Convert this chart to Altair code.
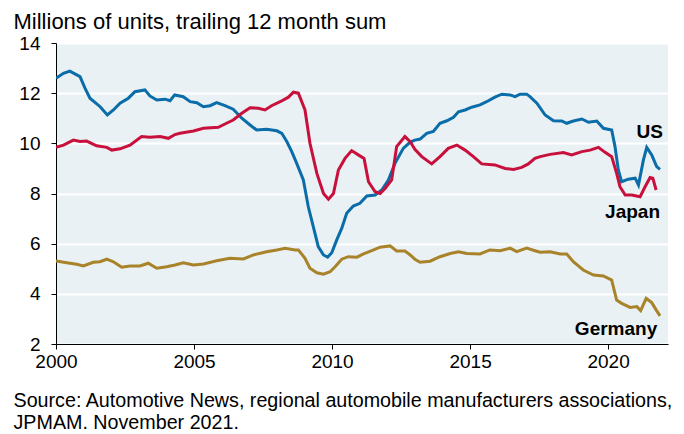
import altair as alt
import pandas as pd

# ---- data (millions of units, trailing 12m sum) ----
us_year = [2000.0, 2000.27, 2000.5, 2000.87, 2001.05, 2001.23, 2001.6, 2001.86, 2002.08, 2002.32,
           2002.62, 2002.86, 2003.22, 2003.4, 2003.65, 2003.95, 2004.13, 2004.3, 2004.61, 2004.86,
           2005.1, 2005.34, 2005.58, 2005.82, 2006.12, 2006.42, 2006.73, 2007.03, 2007.27, 2007.63,
           2008.0, 2008.18, 2008.36, 2008.54, 2008.72, 2008.96, 2009.14, 2009.32, 2009.5, 2009.69,
           2009.84, 2009.99, 2010.17, 2010.35, 2010.53, 2010.77, 2011.01, 2011.26, 2011.56, 2011.8,
           2012.04, 2012.28, 2012.58, 2012.83, 2013.0, 2013.19, 2013.43, 2013.67, 2013.91, 2014.16,
           2014.4, 2014.58, 2014.82, 2015.06, 2015.36, 2015.6, 2015.9, 2016.15, 2016.45, 2016.63,
           2016.81, 2017.05, 2017.17, 2017.42, 2017.72, 2018.02, 2018.32, 2018.5, 2018.74, 2019.05,
           2019.29, 2019.59, 2019.83, 2020.13, 2020.25, 2020.37, 2020.49, 2020.73, 2020.98, 2021.1,
           2021.28, 2021.4, 2021.58, 2021.76, 2021.88]
us_val = [12.59, 12.79, 12.88, 12.66, 12.2, 11.8, 11.46, 11.13, 11.33, 11.6,
          11.8, 12.06, 12.13, 11.89, 11.73, 11.76, 11.7, 11.93, 11.86, 11.66,
          11.62, 11.46, 11.5, 11.62, 11.5, 11.36, 11.0, 10.73, 10.53, 10.56,
          10.5, 10.4, 10.07, 9.67, 9.2, 8.54, 7.47, 6.68, 5.88, 5.55,
          5.46, 5.64, 6.15, 6.61, 7.21, 7.5, 7.61, 7.9, 7.94, 8.14,
          8.54, 9.2, 9.8, 10.05, 10.13, 10.17, 10.4, 10.47, 10.8, 10.9,
          11.04, 11.26, 11.33, 11.44, 11.53, 11.66, 11.84, 11.96, 11.93, 11.86,
          11.96, 11.96, 11.86, 11.6, 11.13, 10.9, 10.89, 10.8, 10.89, 10.97,
          10.84, 10.89, 10.6, 10.53, 9.87, 8.94, 8.47, 8.57, 8.61, 8.34,
          9.34, 9.84, 9.54, 9.07, 8.96]

jp_year = [2000.0, 2000.27, 2000.63, 2000.87, 2001.11, 2001.47, 2001.84, 2002.02, 2002.32, 2002.68,
           2003.1, 2003.4, 2003.77, 2004.07, 2004.31, 2004.49, 2004.98, 2005.34, 2005.88, 2006.12,
           2006.42, 2006.73, 2007.03, 2007.33, 2007.57, 2007.81, 2008.12, 2008.42, 2008.6, 2008.78,
           2009.02, 2009.2, 2009.45, 2009.69, 2009.87, 2010.05, 2010.23, 2010.47, 2010.71, 2010.95,
           2011.16, 2011.32, 2011.56, 2011.74, 2011.92, 2012.16, 2012.34, 2012.64, 2012.83, 2013.0,
           2013.25, 2013.61, 2013.91, 2014.21, 2014.52, 2014.82, 2015.12, 2015.42, 2015.9, 2016.27,
           2016.57, 2016.87, 2017.11, 2017.35, 2017.54, 2017.9, 2018.38, 2018.68, 2019.05, 2019.35,
           2019.65, 2019.89, 2020.13, 2020.31, 2020.43, 2020.62, 2020.86, 2021.16, 2021.34, 2021.52,
           2021.62, 2021.74]
jp_val = [9.84, 9.93, 10.13, 10.07, 10.09, 9.9, 9.84, 9.73, 9.78, 9.93,
          10.27, 10.24, 10.27, 10.2, 10.35, 10.4, 10.49, 10.6, 10.64, 10.77,
          10.93, 11.2, 11.42, 11.4, 11.33, 11.5, 11.66, 11.84, 12.04, 12.0,
          11.33, 10.0, 8.8, 8.0, 7.77, 8.0, 8.94, 9.4, 9.71, 9.54,
          9.4, 8.47, 8.07, 8.0, 8.2, 8.54, 9.87, 10.27, 10.07, 9.76,
          9.47, 9.18, 9.47, 9.8, 9.93, 9.73, 9.47, 9.18, 9.14, 9.0,
          8.96, 9.04, 9.18, 9.4, 9.47, 9.56, 9.63, 9.54, 9.67, 9.73,
          9.84, 9.64, 9.47, 8.8, 8.27, 7.94, 7.94, 7.87, 8.27, 8.64,
          8.61, 8.14]

de_year = [2000.0, 2000.39, 2000.75, 2000.99, 2001.35, 2001.59, 2001.84, 2002.08, 2002.38, 2002.68,
           2003.04, 2003.34, 2003.65, 2004.01, 2004.31, 2004.61, 2004.98, 2005.34, 2005.82, 2006.3,
           2006.79, 2007.15, 2007.63, 2008.0, 2008.3, 2008.66, 2008.78, 2009.02, 2009.2, 2009.45,
           2009.69, 2009.93, 2010.11, 2010.35, 2010.59, 2010.9, 2011.14, 2011.44, 2011.74, 2012.1,
           2012.34, 2012.64, 2012.83, 2013.0, 2013.19, 2013.55, 2013.91, 2014.28, 2014.58, 2014.88,
           2015.36, 2015.72, 2016.09, 2016.45, 2016.69, 2017.05, 2017.35, 2017.54, 2017.9, 2018.26,
           2018.5, 2018.74, 2019.1, 2019.47, 2019.83, 2020.13, 2020.31, 2020.49, 2020.8, 2021.04,
           2021.18, 2021.38, 2021.58, 2021.74, 2021.88]
de_val = [5.31, 5.24, 5.18, 5.11, 5.26, 5.28, 5.38, 5.28, 5.06, 5.11,
          5.11, 5.22, 5.02, 5.08, 5.15, 5.24, 5.15, 5.19, 5.32, 5.42,
          5.39, 5.55, 5.68, 5.75, 5.82, 5.75, 5.75, 5.42, 5.02, 4.84,
          4.78, 4.88, 5.08, 5.38, 5.48, 5.46, 5.59, 5.72, 5.86, 5.91,
          5.71, 5.71, 5.55, 5.38, 5.26, 5.3, 5.48, 5.61, 5.68, 5.61,
          5.59, 5.75, 5.72, 5.82, 5.68, 5.82, 5.72, 5.66, 5.68, 5.59,
          5.59, 5.28, 4.95, 4.75, 4.71, 4.55, 3.75, 3.62, 3.46, 3.49,
          3.33, 3.82, 3.65, 3.36, 3.12]

series_names = ["US", "Japan", "Germany"]
series_colors = ["#0A6CA8", "#C8103C", "#A8832A"]

# series label anchors (data coordinates)
label_text = ["US", "Japan", "Germany"]
label_year = [2021.99, 2021.88, 2021.78]
label_val = [10.2, 7.01, 2.36]

x_ticks = [2000, 2005, 2010, 2015, 2020]
y_ticks = [2, 4, 6, 8, 10, 12, 14]

title_text = "Millions of units, trailing 12 month sum"
source_text = ["Source: Automotive News, regional automobile manufacturers associations,",
               "JPMAM. November 2021."]

# ---- build tables ----
rows = []
for name, ys, vs in zip(series_names, [us_year, jp_year, de_year], [us_val, jp_val, de_val]):
    for yr, v in zip(ys, vs):
        rows.append({"series": name, "year": yr, "value": v})
df = pd.DataFrame(rows)
lab_df = pd.DataFrame({"label": label_text, "year": label_year, "value": label_val})

FONT = "Liberation Sans"
x_scale = alt.Scale(domain=[2000, 2022.17], nice=False, zero=False)
y_scale = alt.Scale(domain=[2, 14], nice=False, zero=False)

lines = alt.Chart(df).mark_line(strokeWidth=3, clip=True).encode(
    x=alt.X("year:Q", scale=x_scale,
            axis=alt.Axis(values=x_ticks, format="d", grid=False, labelFlush=False,
                          title=source_text, titleAnchor="start", titleAlign="left",
                          titleX=-43, titleY=62, titleBaseline="alphabetic",
                          titleFontSize=19.7, titleFontWeight="normal", titleLineHeight=22,
                          titleFont=FONT, titleColor="black",
                          labelPadding=3)),
    y=alt.Y("value:Q", scale=y_scale,
            axis=alt.Axis(values=y_ticks, grid=True, gridColor="white", gridWidth=2,
                          labelPadding=11, labelFlush=False,
                          title=title_text, titleAngle=0, titleAnchor="start",
                          titleAlign="left", titleBaseline="alphabetic",
                          titleX=-43, titleY=-15, titleFontSize=22,
                          titleFontWeight="normal", titleFont=FONT, titleColor="black")),
    color=alt.Color("series:N", scale=alt.Scale(domain=series_names, range=series_colors),
                    legend=None),
    detail="series:N",
)

labels = alt.Chart(lab_df).mark_text(
    align="right", baseline="alphabetic", fontSize=19, fontWeight="bold",
    font=FONT, color="black"
).encode(
    x=alt.X("year:Q", scale=x_scale),
    y=alt.Y("value:Q", scale=y_scale),
    text="label:N",
)

chart = alt.layer(lines, labels).properties(
    width=612, height=301,
    padding={"left": 48, "top": 35, "right": 8, "bottom": 88},
    autosize=alt.AutoSizeParams(type="none"),
).configure_view(
    fill="#E9F1F4", stroke=None
).configure_axis(
    domainColor="black", domainWidth=1, tickColor="black", tickSize=5, tickWidth=1,
    labelFont=FONT, labelFontSize=19, labelColor="black",
)

chart.save("out.html", embed_options={"renderer": "svg", "actions": False})
